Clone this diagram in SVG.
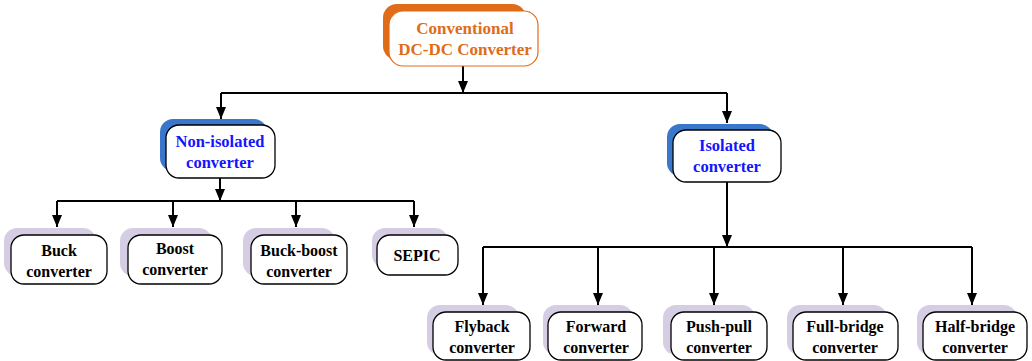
<svg xmlns="http://www.w3.org/2000/svg" width="1032" height="361" viewBox="0 0 1032 361">
  <defs>
    <marker id="arrow" viewBox="0 0 12 10" refX="12" refY="5" markerWidth="12" markerHeight="10" markerUnits="userSpaceOnUse" orient="auto">
      <path d="M0,0 L12,5 L0,10 Z" fill="#000"/>
    </marker>
    <style>
      .bg { fill: #ffffff; }
      .label { font-family: "Liberation Serif", "Times New Roman", serif; font-weight: bold; text-anchor: middle; }
      .top-shadow { fill: #e06c1a; }
      .top-box { fill: #ffffff; stroke: #e06c1a; stroke-width: 1.2; }
      .top-text { fill: #e06c1a; font-size: 17px; }
      .mid-shadow { fill: #3a76cc; }
      .mid-box { fill: #ffffff; stroke: #000; stroke-width: 1.3; }
      .mid-text { fill: #1414ff; font-size: 16.5px; }
      .leaf-shadow { fill: #d5cde3; }
      .leaf-box { fill: #ffffff; stroke: #000; stroke-width: 1.3; }
      .leaf-text { fill: #000; font-size: 16px; }
      .wire { fill: none; stroke: #000; stroke-width: 2; }
      .wire-arrow { fill: none; stroke: #000; stroke-width: 2; marker-end: url(#arrow); }
    </style>
  </defs>

  <rect class="bg" x="0" y="0" width="1032" height="361"/>

  <!-- connectors -->
  <g id="connectors">
    <path class="wire-arrow" d="M463,66 V93"/>
    <path class="wire" d="M221,93 H727"/>
    <path class="wire-arrow" d="M221,93 V119"/>
    <path class="wire-arrow" d="M727,93 V123"/>

    <path class="wire-arrow" d="M220,178 V201"/>
    <path class="wire" d="M57,201 H414"/>
    <path class="wire-arrow" d="M57,201 V227"/>
    <path class="wire-arrow" d="M173,201 V227"/>
    <path class="wire-arrow" d="M296,201 V227"/>
    <path class="wire-arrow" d="M414,201 V227"/>

    <path class="wire-arrow" d="M727,182 V247"/>
    <path class="wire" d="M483,247 H972"/>
    <path class="wire-arrow" d="M483,247 V305"/>
    <path class="wire-arrow" d="M598,247 V305"/>
    <path class="wire-arrow" d="M714,247 V305"/>
    <path class="wire-arrow" d="M843,247 V305"/>
    <path class="wire-arrow" d="M972,247 V305"/>
  </g>

  <!-- root -->
  <g id="conventional">
    <rect class="top-shadow" x="383" y="4" width="143" height="56" rx="14"/>
    <rect class="top-box" x="389" y="11" width="149" height="55" rx="14"/>
    <text class="label top-text" x="465" y="34">Conventional</text>
    <text class="label top-text" x="465" y="55">DC-DC Converter</text>
  </g>

  <!-- second level -->
  <g id="non-isolated">
    <rect class="mid-shadow" x="160" y="119" width="107" height="52" rx="13"/>
    <rect class="mid-box" x="166" y="125" width="109" height="53" rx="13"/>
    <text class="label mid-text" x="220" y="147">Non-isolated</text>
    <text class="label mid-text" x="220" y="168">converter</text>
  </g>

  <g id="isolated">
    <rect class="mid-shadow" x="667" y="124" width="106" height="52" rx="13"/>
    <rect class="mid-box" x="673" y="130" width="108" height="52" rx="13"/>
    <text class="label mid-text" x="727" y="151">Isolated</text>
    <text class="label mid-text" x="727" y="172">converter</text>
  </g>

  <!-- non-isolated family -->
  <g id="buck">
    <rect class="leaf-shadow" x="4" y="228" width="92" height="48" rx="13"/>
    <rect class="leaf-box" x="11" y="235" width="96" height="49" rx="13"/>
    <text class="label leaf-text" x="59" y="256">Buck</text>
    <text class="label leaf-text" x="59" y="277">converter</text>
  </g>

  <g id="boost">
    <rect class="leaf-shadow" x="120" y="228" width="92" height="48" rx="13"/>
    <rect class="leaf-box" x="128" y="235" width="94" height="49" rx="13"/>
    <text class="label leaf-text" x="175" y="254">Boost</text>
    <text class="label leaf-text" x="175" y="275">converter</text>
  </g>

  <g id="buck-boost">
    <rect class="leaf-shadow" x="243" y="228" width="92" height="48" rx="13"/>
    <rect class="leaf-box" x="251" y="235" width="96" height="49" rx="13"/>
    <text class="label leaf-text" x="299" y="256">Buck-boost</text>
    <text class="label leaf-text" x="299" y="277">converter</text>
  </g>

  <g id="sepic">
    <rect class="leaf-shadow" x="372" y="228" width="76" height="40" rx="13"/>
    <rect class="leaf-box" x="377" y="235" width="81" height="40" rx="13"/>
    <text class="label leaf-text" x="417" y="261">SEPIC</text>
  </g>

  <!-- isolated family -->
  <g id="flyback">
    <rect class="leaf-shadow" x="427" y="305" width="92" height="50" rx="13"/>
    <rect class="leaf-box" x="433" y="312" width="97" height="48" rx="13"/>
    <text class="label leaf-text" x="482" y="332">Flyback</text>
    <text class="label leaf-text" x="482" y="353">converter</text>
  </g>

  <g id="forward">
    <rect class="leaf-shadow" x="543" y="305" width="90" height="50" rx="13"/>
    <rect class="leaf-box" x="548" y="312" width="94" height="48" rx="13"/>
    <text class="label leaf-text" x="596" y="332">Forward</text>
    <text class="label leaf-text" x="596" y="353">converter</text>
  </g>

  <g id="push-pull">
    <rect class="leaf-shadow" x="663" y="305" width="92" height="50" rx="13"/>
    <rect class="leaf-box" x="671" y="312" width="96" height="48" rx="13"/>
    <text class="label leaf-text" x="719" y="332">Push-pull</text>
    <text class="label leaf-text" x="719" y="353">converter</text>
  </g>

  <g id="full-bridge">
    <rect class="leaf-shadow" x="787" y="305" width="100" height="50" rx="13"/>
    <rect class="leaf-box" x="793" y="312" width="105" height="48" rx="13"/>
    <text class="label leaf-text" x="845" y="332">Full-bridge</text>
    <text class="label leaf-text" x="845" y="353">converter</text>
  </g>

  <g id="half-bridge">
    <rect class="leaf-shadow" x="917" y="305" width="100" height="50" rx="13"/>
    <rect class="leaf-box" x="923" y="312" width="104" height="48" rx="13"/>
    <text class="label leaf-text" x="975" y="332">Half-bridge</text>
    <text class="label leaf-text" x="975" y="353">converter</text>
  </g>
</svg>
